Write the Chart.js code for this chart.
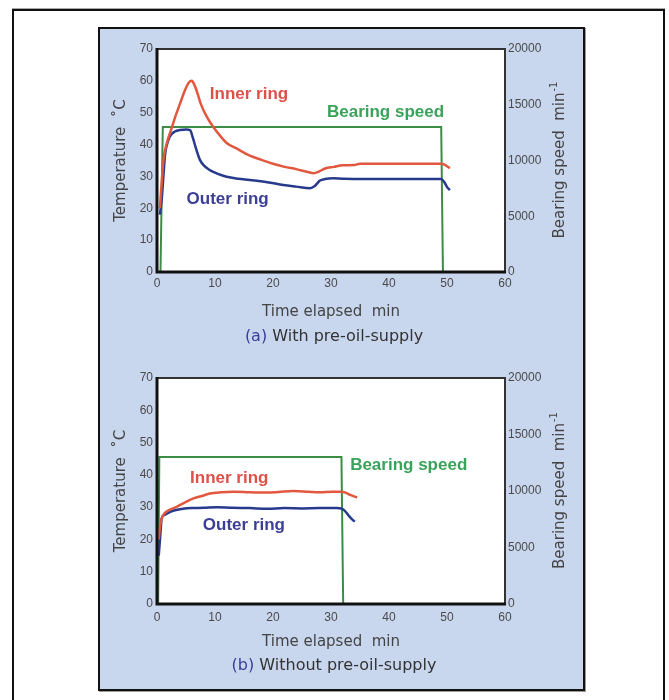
<!DOCTYPE html>
<html>
<head>
<meta charset="utf-8">
<script src="https://cdn.jsdelivr.net/npm/chart.js@4"></script>
<style>
  html, body { margin:0; padding:0; background:#fff; width:669px; height:700px; overflow:hidden; }
  #frame { position:absolute; left:12px; top:9px; width:653px; height:760px; box-sizing:border-box;
           border:2px solid #111; border-bottom:none; box-shadow:0 -1px 0 #aaa; }
  #panel { position:absolute; left:98px; top:27px; width:487px; height:664px; box-sizing:border-box;
           background:#c8d6ee; border:2px solid #111; box-shadow:1px 1px 0 #999; }
  canvas { position:absolute; }
  .sub { position:absolute; left:0; width:668px; text-align:center; font:16px "DejaVu Sans", sans-serif;
         line-height:20px; color:#333; }
  .sub span { color:#3c3c9a; }
</style>
</head>
<body>
<div id="frame"></div>
<div id="panel"></div>
<canvas id="cA" width="484" height="300" style="left:100px;top:30px;width:484px;height:300px"></canvas>
<canvas id="cB" width="484" height="300" style="left:100px;top:358px;width:484px;height:300px"></canvas>
<div class="sub" style="top:326px"><span>(a)</span> With pre-oil-supply</div>
<div class="sub" style="top:655px"><span>(b)</span> Without pre-oil-supply</div>
<script>
// ---------- data ----------
const xTicks = [0, 10, 20, 30, 40, 50, 60];
const tempTicks = [0, 10, 20, 30, 40, 50, 60, 70];
const speedTicks = [0, 5000, 10000, 15000, 20000];

// (a) With pre-oil-supply
const timeA_inner = [0.5, 0.8, 1.1, 1.7, 2.5, 3.2, 4.0, 4.8, 5.5, 6.0, 6.5, 7.0, 7.5, 8.5, 9.7, 11, 12, 14, 16, 18, 20, 22, 24, 26, 27, 28, 29, 30.5, 32, 34, 35, 40, 45, 49, 49.5, 50, 50.5];
const tempA_inner = [20, 28, 35, 40.5, 45, 49, 53, 57, 59.5, 60, 58.5, 56, 53, 49, 45.5, 42.5, 40.5, 38.5, 36.5, 35.2, 34, 33, 32.3, 31.4, 31, 31.6, 32.5, 33, 33.5, 33.6, 34, 34, 34, 34, 33.8, 33.2, 32.6];
const timeA_outer = [0.5, 0.8, 1.1, 1.4, 1.8, 2.2, 3.0, 4.0, 5.0, 5.7, 6.2, 6.8, 7.4, 8.2, 9.1, 10.5, 12, 14, 16, 19, 21.8, 24, 26.4, 27.2, 28.1, 29, 30.4, 32, 35, 40, 45, 49, 49.5, 50, 50.5];
const tempA_outer = [18, 22.6, 30, 37, 40.5, 42.5, 44, 44.6, 44.7, 44.5, 42, 38.3, 35.2, 33.2, 32, 30.8, 29.9, 29.3, 28.9, 28.2, 27.3, 26.8, 26.3, 27, 28.7, 29.2, 29.4, 29.3, 29.2, 29.2, 29.2, 29.2, 28.3, 26.7, 25.7];
const timeA_speed = [0.6, 1.0, 49.0, 49.3];
const speedA = [0, 13000, 13000, 0];

// (b) Without pre-oil-supply
const timeB_inner = [0.3, 0.6, 1.1, 2, 3.4, 5, 6.3, 8, 9.1, 11, 13.2, 16, 19, 21, 23.5, 26, 28, 30.4, 31.8, 32.5, 33.3, 34.5];
const tempB_inner = [20, 25, 27.6, 29, 30.1, 31.6, 32.7, 33.6, 34.2, 34.6, 34.8, 34.6, 34.5, 34.7, 35, 34.8, 34.6, 34.8, 34.8, 34.5, 33.8, 33.0];
const timeB_outer = [0.3, 0.6, 0.8, 1.2, 1.7, 2.5, 3.5, 4.5, 6, 8, 10.3, 13, 16, 19, 22, 25, 28, 31, 31.8, 32.3, 33, 33.6, 34.1];
const tempB_outer = [15, 22, 26.5, 27.5, 28, 28.7, 29.2, 29.5, 29.7, 29.8, 30, 29.8, 29.7, 29.5, 29.7, 29.6, 29.7, 29.7, 29.6, 29.0, 27.5, 26.3, 25.5];
const timeB_speed = [0.2, 0.4, 31.8, 32.1, 34.4];
const speedB = [0, 13000, 13000, 0, 0];

// annotation labels (text, anchor in data units: time, temperature)
const labelsA = [
  { text: 'Inner ring', t: 9.1, v: 55.9, kind: 'inner' },
  { text: 'Bearing speed', t: 29.3, v: 50, kind: 'speed' },
  { text: 'Outer ring', t: 5.1, v: 22.7, kind: 'outer' }
];
const labelsB = [
  { text: 'Inner ring', t: 5.7, v: 39.0, kind: 'inner' },
  { text: 'Bearing speed', t: 33.3, v: 43.0, kind: 'speed' },
  { text: 'Outer ring', t: 7.9, v: 24.5, kind: 'outer' }
];

// ---------- styles ----------
const lineColor = { inner: '#e2583e', outer: '#283a8c', speed: '#3c8c46' };
const textColor = { inner: '#de5048', outer: '#3d3f96', speed: '#3aa35a' };

function pts(ts, vs) { return ts.map((t, i) => ({ x: t, y: vs[i] })); }

const framePlugin = {
  id: 'frame',
  beforeDraw(chart) {
    const a = chart.chartArea, c = chart.ctx;
    c.save(); c.fillStyle = '#ffffff'; c.fillRect(a.left, a.top, a.right - a.left, a.bottom - a.top); c.restore();
  },
  afterDatasetsDraw(chart) {
    const a = chart.chartArea, c = chart.ctx;
    c.save();
    c.strokeStyle = '#333'; c.lineWidth = 2;
    c.beginPath(); c.moveTo(a.left, a.top); c.lineTo(a.right, a.top); c.lineTo(a.right, a.bottom); c.stroke();
    c.strokeStyle = '#111'; c.lineWidth = 3;
    c.beginPath(); c.moveTo(a.left, a.top - 1); c.lineTo(a.left, a.bottom); c.lineTo(a.right + 1, a.bottom); c.stroke();
    // annotation labels
    const lab = chart.options.plugins.frame.labels;
    c.font = 'bold 17px "Liberation Sans", Arial, sans-serif';
    c.textAlign = 'left'; c.textBaseline = 'middle';
    lab.forEach(l => {
      c.fillStyle = textColor[l.kind];
      c.fillText(l.text, chart.scales.x.getPixelForValue(l.t), chart.scales.y.getPixelForValue(l.v));
    });
    // right axis title (rotated, reading upward)
    const cy = (a.top + a.bottom) / 2, cx = a.right + 55;
    c.translate(cx, cy); c.rotate(-Math.PI / 2);
    c.fillStyle = '#444'; c.textBaseline = 'middle';
    const main = 'Bearing speed  min';
    c.font = '15px "DejaVu Sans", sans-serif';
    const w1 = c.measureText(main).width;
    c.font = '10px "DejaVu Sans", sans-serif';
    const w2 = c.measureText('-1').width;
    const x0 = -(w1 + w2) / 2;
    c.font = '15px "DejaVu Sans", sans-serif';
    c.fillText(main, x0, 0);
    c.font = '10px "DejaVu Sans", sans-serif';
    c.fillText('-1', x0 + w1 + 1, -6);
    c.restore();
  }
};

function makeChart(id, sets, labels, topPad, xH, xTitlePad, tickPadX) {
  new Chart(document.getElementById(id), {
    type: 'line',
    data: {
      datasets: [
        { data: pts(sets[0][0], sets[0][1]), borderColor: lineColor.inner, borderWidth: 2.5, cubicInterpolationMode: 'monotone', yAxisID: 'y' },
        { data: pts(sets[1][0], sets[1][1]), borderColor: lineColor.outer, borderWidth: 2.5, cubicInterpolationMode: 'monotone', yAxisID: 'y' },
        { data: pts(sets[2][0], sets[2][1]), borderColor: lineColor.speed, borderWidth: 2, tension: 0, yAxisID: 'y2' }
      ]
    },
    options: {
      responsive: false, animation: false, devicePixelRatio: 1,
      layout: { padding: { top: topPad, left: 0, right: 0, bottom: 0 } },
      elements: { point: { radius: 0 } },
      plugins: { legend: { display: false }, tooltip: { enabled: false }, frame: { labels: labels } },
      scales: {
        x: {
          type: 'linear', min: 0, max: 60,
          afterBuildTicks: s => { s.ticks = xTicks.map(v => ({ value: v })); },
          afterFit: s => { s.height = xH; },
          grid: { display: false, drawTicks: false }, border: { display: false },
          ticks: { padding: tickPadX, color: '#4a4a4a', font: { family: '"Liberation Sans", Arial', size: 12 }, maxRotation: 0 },
          title: { display: true, text: 'Time elapsed  min', color: '#444', font: { family: '"DejaVu Sans"', size: 15 }, padding: { top: 0, bottom: xTitlePad } }
        },
        y: {
          position: 'left', min: 0, max: 70,
          afterBuildTicks: s => { s.ticks = tempTicks.map(v => ({ value: v })); },
          afterFit: s => { s.width = 57; },
          grid: { display: false, drawTicks: false }, border: { display: false },
          ticks: { padding: 4, color: '#4a4a4a', font: { family: '"Liberation Sans", Arial', size: 12 } },
          title: { display: true, text: 'Temperature  ˚C', color: '#444', font: { family: '"DejaVu Sans"', size: 15 }, padding: { top: 12, bottom: 0 } }
        },
        y2: {
          position: 'right', min: 0, max: 20000,
          afterBuildTicks: s => { s.ticks = speedTicks.map(v => ({ value: v })); },
          afterFit: s => { s.width = 79; },
          grid: { display: false, drawTicks: false }, border: { display: false },
          ticks: { padding: 3, color: '#4a4a4a', font: { family: '"Liberation Sans", Arial', size: 12 }, callback: v => String(v) }
        }
      }
    },
    plugins: [framePlugin]
  });
}

makeChart('cA', [[timeA_inner, tempA_inner], [timeA_outer, tempA_outer], [timeA_speed, speedA]], labelsA, 19, 58, 9, 4);
makeChart('cB', [[timeB_inner, tempB_inner], [timeB_outer, tempB_outer], [timeB_speed, speedB]], labelsB, 20, 54, 7, 6);
</script>
</body>
</html>
